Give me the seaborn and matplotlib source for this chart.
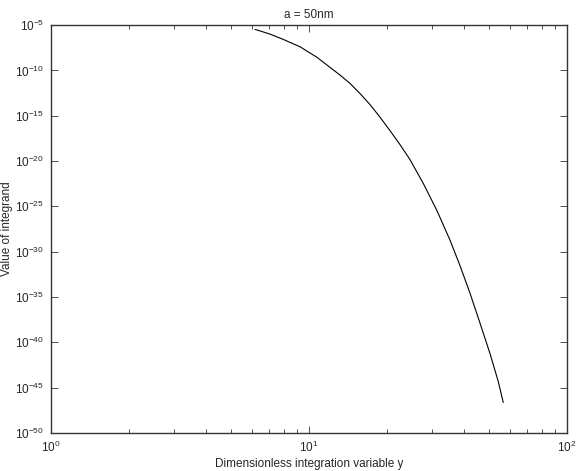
#!/usr/bin/env python

import pandas as pd
import matplotlib
matplotlib.use("Agg")
import matplotlib.pyplot as plt
import matplotlib.ticker as mticker
import numpy as np
import seaborn as sns

# points (log-log)
y_var = [6.18, 7.06, 7.95, 9.23, 10.71, 13.19, 14.42, 15.77, 17.24, 18.84,
         20.61, 22.53, 24.63, 27.73, 31.26, 35.20, 38.48, 42.07, 46.01, 50.29,
         54.17, 56.63]
log_integrand = [-5.47, -5.99, -6.58, -7.39, -8.53, -10.51, -11.43, -12.55, -13.77, -15.15,
                 -16.64, -18.18, -19.83, -22.46, -25.40, -28.71, -31.52, -34.56, -37.87, -41.21,
                 -44.32, -46.63]
ytick_exp = [-50, -45, -40, -35, -30, -25, -20, -15, -10, -5]

df = pd.DataFrame({"y": y_var, "val": 10.0 ** np.array(log_integrand)})

sns.set_style("ticks")
plt.rcParams["font.family"] = ["Liberation Sans", "DejaVu Sans"]
plt.rcParams["mathtext.fontset"] = "custom"
plt.rcParams["mathtext.rm"] = "Liberation Sans"
plt.rcParams["mathtext.it"] = "Liberation Sans:italic"
plt.rcParams["font.size"] = 8.5

fig = plt.figure(figsize=(5.81, 4.71), dpi=100)
ax = fig.add_axes([0.0878, 0.0807, 0.888, 0.866])

sns.lineplot(data=df, x="y", y="val", ax=ax, color="black", linewidth=0.8,
             sort=False, estimator=None)

ax.set_xscale("log")
ax.set_yscale("log")
ax.set_xlim(1, 100)
ax.set_ylim(1e-50, 1e-5)
ax.set_yticks([10.0 ** e for e in ytick_exp])
ax.yaxis.set_minor_locator(mticker.NullLocator())
ax.xaxis.set_minor_locator(mticker.LogLocator(base=10, subs=np.arange(2, 10), numticks=20))
ax.xaxis.set_minor_formatter(mticker.NullFormatter())

for s in ax.spines.values():
    s.set_visible(True)
    s.set_linewidth(1.0)
    s.set_color("#333333")
ax.tick_params(which="both", direction="in", top=True, right=True, labelsize=8.5,
               color="#333333", width=0.6)
ax.tick_params(which="major", length=5)
ax.tick_params(which="minor", length=3)
ax.tick_params(axis="x", pad=5)
ax.tick_params(axis="y", pad=5)

ax.set_xlabel("Dimensionless integration variable y", fontsize=8.5, labelpad=2)
ax.set_ylabel("Value of integrand", fontsize=8.5)
ax.yaxis.set_label_coords(-0.073, 0.5)
ax.set_title("a = 50nm", fontsize=8.5, pad=5)

plt.savefig("out.png", dpi=100)
